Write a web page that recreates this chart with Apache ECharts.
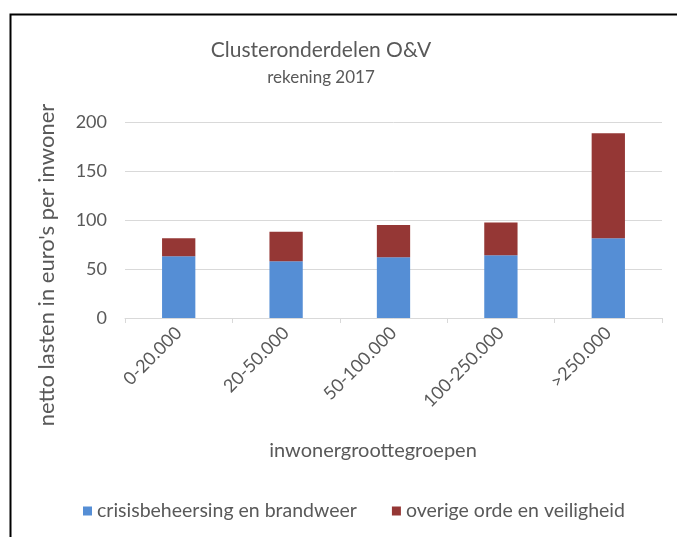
<!DOCTYPE html>
<html>
<head>
<meta charset="utf-8">
<script src="https://cdn.jsdelivr.net/npm/echarts@6/dist/echarts.min.js"></script>
<style>
  html, body { margin: 0; padding: 0; background: #fff; }
  #chart { width: 677px; height: 537px; }
</style>
</head>
<body>
<div id="chart"></div>
<script>
// inwonergrootteklassen
var categories = ["0-20.000", "20-50.000", "50-100.000", "100-250.000", ">250.000"];
var seriesNames = ["crisisbeheersing en brandweer", "overige orde en veiligheid"];
var crisisData = [63, 58, 62, 64, 81.5];
var overigData = [18.5, 30, 33, 33.5, 107];
var yTicks = [0, 50, 100, 150, 200];

var txt = "#595959";
var font = "Lato";

var myChart = echarts.init(document.getElementById("chart"));
var option = {
  animation: false,
  textStyle: { fontFamily: font },
  title: {
    text: "Clusteronderdelen O&V",
    subtext: "rekening 2017",
    left: 316,
    textAlign: "center",
    top: 35,
    itemGap: 8,
    textStyle: { color: txt, fontSize: 21, fontWeight: "normal", fontFamily: font },
    subtextStyle: { color: txt, fontSize: 17, fontFamily: font }
  },
  grid: { left: 125, right: 15, top: 122, bottom: 219 },
  legend: {
    bottom: 11,
    left: 78,
    icon: "rect",
    itemWidth: 9,
    itemHeight: 9,
    itemGap: 35,
    textStyle: { color: txt, fontSize: 19.5, fontFamily: font },
    data: seriesNames
  },
  xAxis: {
    type: "category",
    data: categories,
    axisLine: { lineStyle: { color: "#d9d9d9" } },
    axisTick: { show: true, length: 5, lineStyle: { color: "#d9d9d9" } },
    axisLabel: { rotate: 45, color: txt, fontSize: 18, margin: 12 }
  },
  yAxis: {
    type: "value",
    min: yTicks[0],
    max: yTicks[yTicks.length - 1],
    interval: 50,
    axisLine: { show: false },
    axisTick: { show: false },
    splitLine: { lineStyle: { color: "#d9d9d9" } },
    axisLabel: { color: txt, fontSize: 18, margin: 18 }
  },
  graphic: [
    {
      type: "rect",
      left: 8,
      top: 12,
      shape: { width: 700, height: 600 },
      style: { fill: "none", stroke: "#000", lineWidth: 2 },
      silent: true
    },
    {
      type: "text",
      x: 47,
      y: 265,
      rotation: Math.PI / 2,
      style: {
        text: "netto lasten in euro's per inwoner",
        fill: txt,
        fontSize: 22,
        fontFamily: font,
        align: "center",
        verticalAlign: "middle"
      }
    },
    {
      type: "text",
      x: 373,
      y: 451,
      style: {
        text: "inwonergroottegroepen",
        fill: txt,
        fontSize: 20,
        fontFamily: font,
        align: "center",
        verticalAlign: "middle"
      }
    }
  ],
  series: [
    {
      name: seriesNames[0],
      type: "bar",
      stack: "totaal",
      barWidth: "31%",
      itemStyle: { color: "#558ed5" },
      data: crisisData
    },
    {
      name: seriesNames[1],
      type: "bar",
      stack: "totaal",
      barWidth: "31%",
      itemStyle: { color: "#953735" },
      data: overigData
    }
  ]
};
myChart.setOption(option);
</script>
</body>
</html>
